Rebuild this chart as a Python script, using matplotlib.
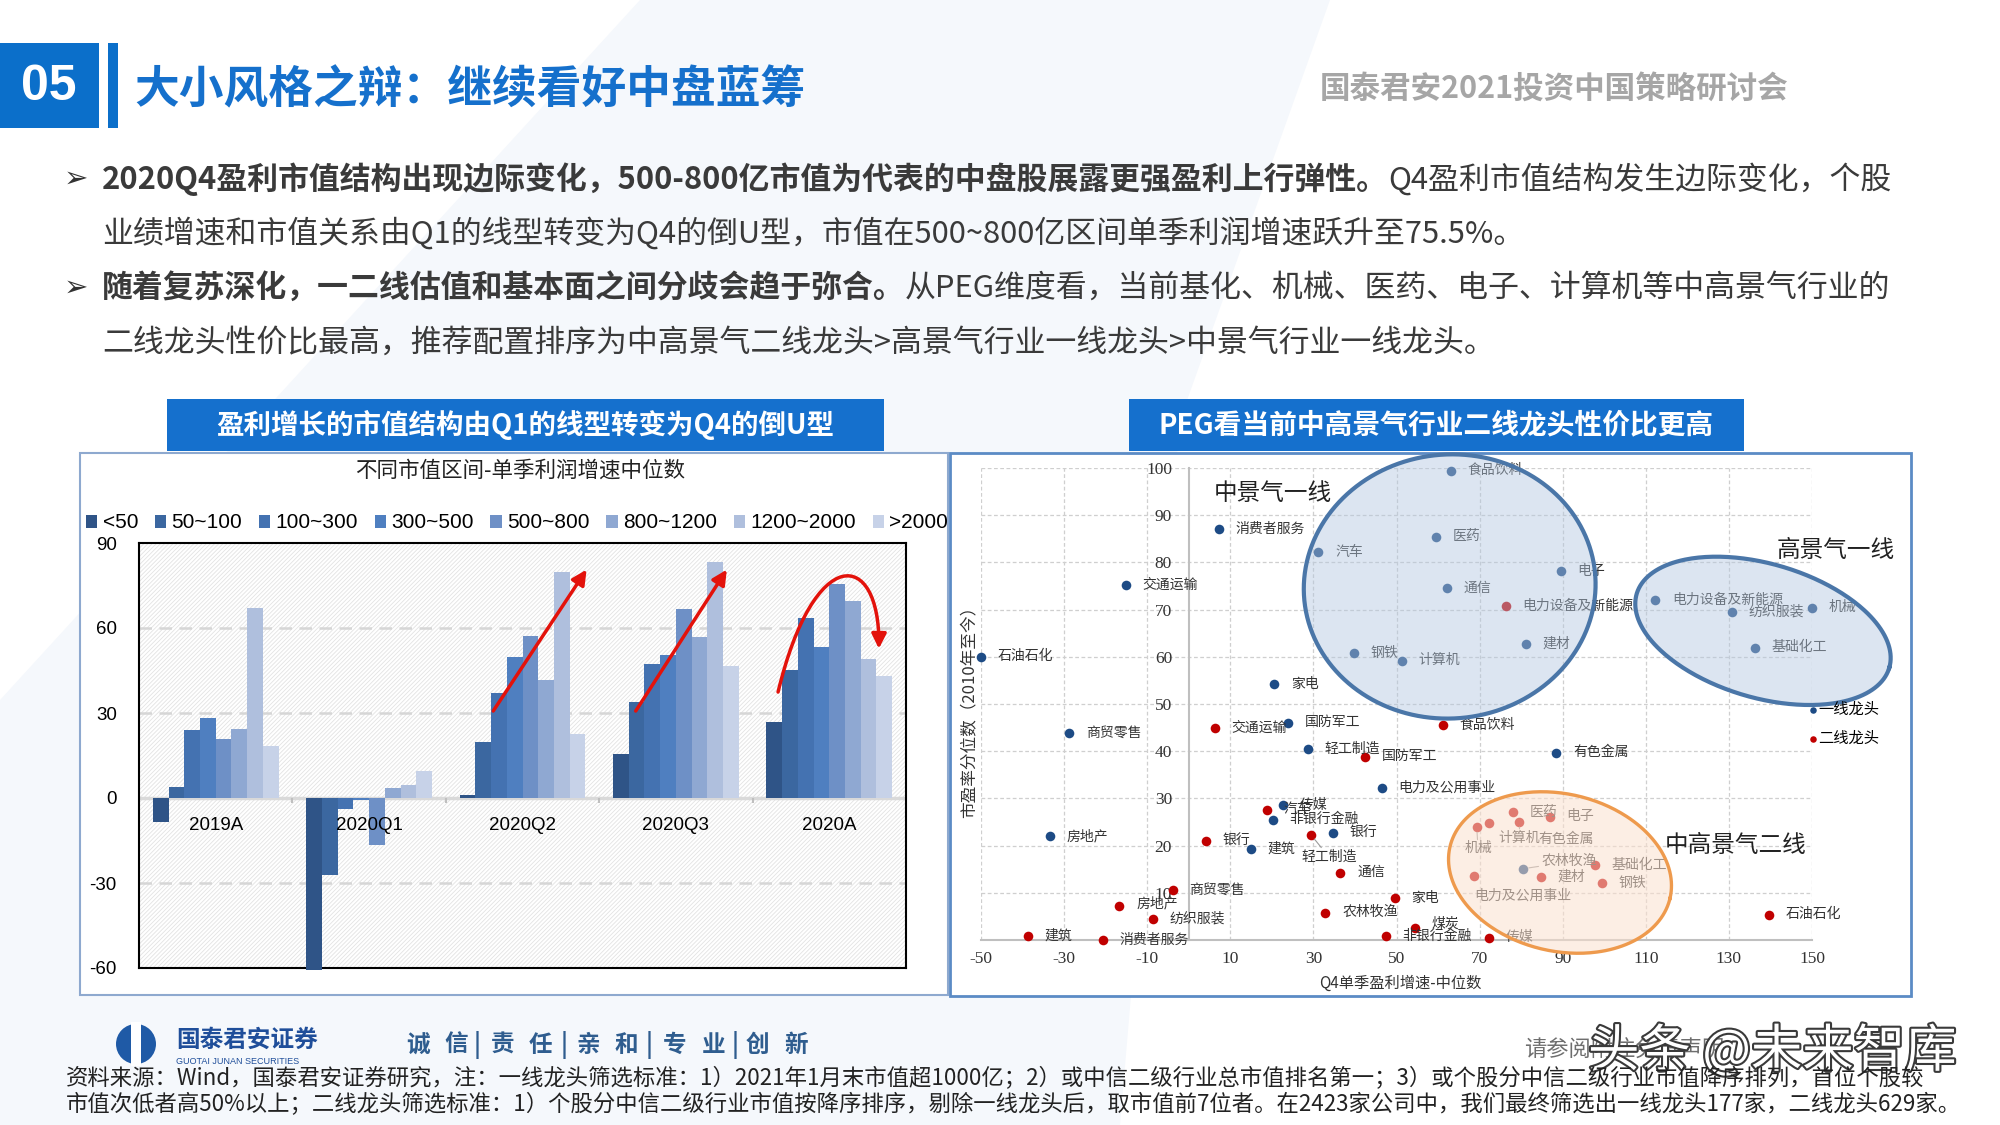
import numpy as np
import matplotlib
matplotlib.use("Agg")
import matplotlib.pyplot as plt
from matplotlib.patches import Rectangle, Ellipse, Polygon, FancyArrowPatch
from matplotlib.path import Path
import matplotlib.patheffects as pe

CJK = ["Noto Sans CJK SC", "DejaVu Sans"]
SERIF = ["Liberation Serif", "Noto Sans CJK SC"]
ARIAL = ["Liberation Sans", "Noto Sans CJK SC"]
plt.rcParams["font.family"] = CJK
plt.rcParams["axes.unicode_minus"] = False
plt.rcParams["hatch.linewidth"] = 0.6

W, H = 2000, 1125

# ---------------- left chart: profit growth by market-cap bucket
periods = ["2019A", "2020Q1", "2020Q2", "2020Q3", "2020A"]
cap_bins = ["<50", "50~100", "100~300", "300~500", "500~800", "800~1200", "1200~2000", ">2000"]
g_2019A = [-8.5, 3.9, 24.1, 28.4, 20.9, 24.2, 66.9, 18.5]
g_2020Q1 = [-60.8, -27.2, -3.8, -0.8, -16.5, 3.5, 4.5, 9.4]
g_2020Q2 = [0.9, 19.8, 37.2, 49.8, 57.1, 41.8, 79.9, 22.5]
g_2020Q3 = [15.6, 33.8, 47.4, 50.4, 66.6, 56.8, 83.2, 46.5]
g_2020A = [26.9, 45.1, 63.5, 53.2, 75.5, 69.4, 49.2, 43.2]
growth = [g_2019A, g_2020Q1, g_2020Q2, g_2020Q3, g_2020A]
bar_colors = ["#2F5487", "#3B67A0", "#4472B1", "#4F7FC0", "#6E90C6", "#8FA8D2", "#AFBFDD", "#C7D2E8"]

# ---------------- right chart: PE percentile vs Q4 profit growth
first_names = ["食品饮料", "消费者服务", "医药", "汽车", "电子", "交通运输", "通信",
               "电力设备及新能源", "机械", "纺织服装", "建材", "基础化工", "钢铁", "石油石化",
               "计算机", "家电", "国防军工", "商贸零售", "轻工制造", "有色金属",
               "电力及公用事业", "传媒", "非银行金融", "银行", "房地产", "建筑", "农林牧渔"]
first_x = [63.1, 7.3, 59.5, 31.2, 89.5, -15.2, 62.2, 112.3, 150.0, 130.7, 81.1, 136.3, 39.8, -50.0,
           51.3, 20.6, 23.8, -28.8, 28.6, 88.5, 46.5, 22.6, 20.2, 34.7, -33.5, 15.0, 80.5]
first_y = [99.4, 87.1, 85.4, 82.1, 78.1, 75.2, 74.5, 72.0, 70.4, 69.5, 62.8, 61.9, 60.8, 60.0,
           59.2, 54.2, 46.0, 43.9, 40.4, 39.7, 32.3, 28.6, 25.5, 22.7, 22.0, 19.3, 15.1]

second_names = ["电力设备及新能源", "食品饮料", "交通运输", "国防军工", "汽车", "医药", "电子",
                "计算机", "有色金属", "机械", "轻工制造", "银行", "基础化工", "通信",
                "电力及公用事业", "建材", "钢铁", "商贸零售", "家电", "房地产", "农林牧渔",
                "石油石化", "纺织服装", "煤炭", "建筑", "非银行金融", "传媒", "消费者服务"]
second_x = [76.3, 61.2, 6.2, 42.4, 18.8, 78.0, 86.9, 79.6, 72.2, 69.3, 29.4, 4.2, 97.8, 36.5,
            68.6, 84.7, 99.4, -3.9, 49.6, -16.7, 32.9, 139.6, -8.7, 54.4, -38.7, 47.4, 72.2, -20.7]
second_y = [70.7, 45.5, 44.9, 38.8, 27.6, 27.1, 26.1, 25.1, 24.8, 24.0, 22.3, 21.0, 15.8, 14.3,
            13.5, 13.4, 12.0, 10.5, 8.8, 7.2, 5.8, 5.4, 4.5, 2.5, 0.8, 0.8, 0.5, 0.0]

# label offsets (points) that differ from the default right-hand placement
special_offsets = {
    ("s", "轻工制造"): (-7, -16, "left", True),
    ("s", "机械"): (1, -16, "center", True),
    ("s", "计算机"): (0, -12, "center", True),
    ("s", "有色金属"): (36, -12, "left", False),
    ("s", "电力及公用事业"): (0, -14, "left", False),
    ("s", "房地产"): (12, 2, "left", False),
    ("s", "煤炭"): (12, 3, "left", False),
    ("f", "农林牧渔"): (13, 5, "left", True),
}

fig = plt.figure(figsize=(20, 11.25), dpi=100)
fig.patch.set_facecolor("white")


def fx(x):
    return x / W


def fy(y):
    return 1 - y / H


def box(x0, y0, x1, y1, **kw):
    r = Rectangle((fx(x0), fy(y1)), (x1 - x0) / W, (y1 - y0) / H,
                  transform=fig.transFigure, **kw)
    fig.add_artist(r)
    return r


# faint background shapes
fig.add_artist(Polygon([[fx(640), fy(0)], [fx(1330), fy(0)], [fx(1180), fy(420)],
                        [fx(1120), fy(1125)], [fx(0), fy(1125)], [fx(0), fy(700)]],
                       closed=True, transform=fig.transFigure, fc="#F5F8FC", ec="none", zorder=-3))

# header
box(0, 43, 99, 128, fc="#0B6FCA", ec="none", zorder=-1)
box(108, 43, 118, 128, fc="#0B6FCA", ec="none", zorder=-1)
fig.text(fx(49), fy(87), "05", color="white", fontsize=36, weight="bold",
         family=["Liberation Sans Narrow", "Liberation Sans"], ha="center", va="center")
fig.text(fx(134), fy(90), "大小风格之辩：继续看好中盘蓝筹", fontsize=32.2, weight="bold",
         color="#1570CC", va="center")
fig.text(fx(1320), fy(89), "国泰君安2021投资中国策略研讨会", fontsize=22, weight="bold",
         color="#A6A6A6", va="center")

# body text with bold lead-ins
renderer = fig.canvas.get_renderer()
body_lines = [
    (179, True, [("2020Q4盈利市值结构出现边际变化，500-800亿市值为代表的中盘股展露更强盈利上行弹性。", True),
                 ("Q4盈利市值结构发生边际变化，个股", False)]),
    (233, False, [("业绩增速和市值关系由Q1的线型转变为Q4的倒U型，市值在500~800亿区间单季利润增速跃升至75.5%。", False)]),
    (288, True, [("随着复苏深化，一二线估值和基本面之间分歧会趋于弥合。", True),
                 ("从PEG维度看，当前基化、机械、医药、电子、计算机等中高景气行业的", False)]),
    (343, False, [("二线龙头性价比最高，推荐配置排序为中高景气二线龙头>高景气行业一线龙头>中景气行业一线龙头。", False)]),
]
for y, bullet, parts in body_lines:
    if bullet:
        fig.text(fx(64), fy(y), "➢", family="DejaVu Sans", fontsize=21, color="#333333", va="center")
    x = 102
    for s, bold in parts:
        t = fig.text(fx(x), fy(y), s, fontsize=22.25, weight="bold" if bold else "normal",
                     color="#3A3A3A", va="center", ha="left")
        x = t.get_window_extent(renderer=renderer).x1

# chart frames and title bars
box(80, 453, 948, 995, fc="white", ec="#8EA9CF", lw=1.5, zorder=-1)
box(950, 453, 1911, 996, fc="white", ec="#5B8BC5", lw=2, zorder=-1)
box(167, 399, 884, 451, fc="#1570CD", ec="none", zorder=-1)
box(1129, 399, 1744, 451, fc="#1570CD", ec="none", zorder=-1)
fig.text(fx(525), fy(425), "盈利增长的市值结构由Q1的线型转变为Q4的倒U型", color="white",
         fontsize=19.8, weight="bold", ha="center", va="center")
fig.text(fx(1436), fy(425), "PEG看当前中高景气行业二线龙头性价比更高", color="white",
         fontsize=20, weight="bold", ha="center", va="center")

# ---------------- left bar chart
axb = fig.add_axes([fx(139), fy(968), (906 - 139) / W, (968 - 543) / H])
xpos = np.arange(len(periods))
nb = len(cap_bins)
bw = 0.82 / nb
for j, name in enumerate(cap_bins):
    vals = [g[j] for g in growth]
    axb.bar(xpos - 0.41 + bw * (j + 0.5), vals, bw, color=bar_colors[j], label=name,
            zorder=3, clip_on=False)
axb.set_xlim(-0.5, 4.5)
axb.set_ylim(-60, 90)
axb.set_yticks([-60, -30, 0, 30, 60, 90])
axb.set_xticks([])
axb.tick_params(axis="y", length=0, pad=16, labelsize=13.5)
for lab in axb.get_yticklabels():
    lab.set_family(ARIAL)
for v in (30, 60, -30):
    axb.axhline(v, color="#D6D6D6", lw=1.8, ls=(0, (5, 3)), zorder=1)
axb.axhline(0, color="#D9D9D9", lw=2.5, zorder=2)
axb.vlines(np.arange(0.5, 4.0, 1.0), -1.8, 0, color="#BFBFBF", lw=1.5, zorder=2)
for i, p in enumerate(periods):
    axb.text(i, -9.6, p, ha="center", va="center", fontsize=13.5, family=ARIAL, zorder=5)
for s in axb.spines.values():
    s.set_color("black")
    s.set_linewidth(1.5)
axb.add_patch(Rectangle((0, 0), 1, 1, transform=axb.transAxes, fill=False,
                        hatch="////////", edgecolor="#E3E3E3", lw=0, zorder=0))

red = "#E3120B"
arrow_kw = dict(arrowstyle="-|>", color=red, lw=2.5, mutation_scale=22, shrinkA=0, shrinkB=0)
axb.annotate("", xy=(2.418, 80.6), xytext=(1.809, 30.7), arrowprops=arrow_kw, zorder=6)
axb.annotate("", xy=(3.332, 80.6), xytext=(2.738, 30.7), arrowprops=arrow_kw, zorder=6)
curve = Path([(3.666, 37.4), (3.90, 90.0), (4.33, 88.0), (4.323, 52.7)],
             [Path.MOVETO, Path.CURVE4, Path.CURVE4, Path.CURVE4])
axb.add_patch(FancyArrowPatch(path=curve, arrowstyle="-|>", color=red, lw=2.5,
                              mutation_scale=22, zorder=6))

fig.text(fx(520), fy(471), "不同市值区间-单季利润增速中位数", fontsize=15.5, ha="center",
         va="center", color="#222222")
axb.legend(loc="center", bbox_to_anchor=(fx(517), fy(523)), bbox_transform=fig.transFigure,
           ncol=8, frameon=False, prop={"family": ARIAL, "size": 15},
           handlelength=0.55, handleheight=0.6, handletextpad=0.25, columnspacing=0.8,
           borderpad=0)

# ---------------- right scatter chart
axs = fig.add_axes([fx(981), fy(940), 831 / W, 472 / H])
axs.patch.set_alpha(0)
axs.set_xlim(-50, 150)
axs.set_ylim(0, 100)
axs.set_xticks(np.arange(-50, 151, 20))
axs.set_yticks(np.arange(0, 101, 10))
axs.set_yticklabels([""] + [str(v) for v in range(10, 101, 10)])
axs.grid(True, ls=(0, (3, 2)), color="#CFCFCF", lw=0.9, zorder=0)
axs.spines["left"].set_position(("data", 0))
axs.spines[["top", "right"]].set_visible(False)
for k in ("left", "bottom"):
    axs.spines[k].set_color("#BFBFBF")
    axs.spines[k].set_linewidth(1.5)
axs.tick_params(axis="x", length=0, pad=8, labelsize=12.5, labelcolor="#333333")
axs.tick_params(axis="y", length=0, pad=12, labelsize=12.5, labelcolor="#333333")
for lab in axs.get_xticklabels() + axs.get_yticklabels():
    lab.set_family(SERIF)

blue_c = "#1D4B85"
red_c = "#C00000"
axs.scatter(first_x, first_y, s=48, color=blue_c, zorder=3, clip_on=False, lw=0)
axs.scatter(second_x, second_y, s=48, color=red_c, zorder=3, clip_on=False, lw=0)


def put_labels(tag, names, xs, ys):
    for n, x, y in zip(names, xs, ys):
        dx, dy, ha, leader = special_offsets.get((tag, n), (12, 0, "left", False))
        ap = dict(arrowstyle="-", color="#999999", lw=0.8, shrinkA=0, shrinkB=4) if leader else None
        axs.annotate(n, (x, y), xytext=(dx, dy), textcoords="offset points", ha=ha,
                     va="center", fontsize=10, color="#333333", family=SERIF,
                     arrowprops=ap, zorder=3, annotation_clip=False)


put_labels("f", first_names, first_x, first_y)
put_labels("s", second_names, second_x, second_y)

# highlight ellipses drawn in pixel-true shape
sx, sy = 831 / 200, 472 / 100


def ellipse_xy(cx, cy, a_px, b_px, ang):
    t = np.linspace(0, 2 * np.pi, 300)
    th = np.deg2rad(ang)
    ex = a_px * np.cos(t) * np.cos(th) - b_px * np.sin(t) * np.sin(th)
    ey = a_px * np.cos(t) * np.sin(th) + b_px * np.sin(t) * np.cos(th)
    return cx + ex / sx, cy + ey / sy


for (cx, cy, a, b, ang), fc, ec, al in [
    ((62.8, 74.9, 146, 132, 5), "#B3C7E0", "#4A76A8", 0.45),
    ((138.2, 65.5, 131.6, 67, -16.3), "#B3C7E0", "#4A76A8", 0.45),
    ((89.35, 14.3, 113, 78.6, -13.2), "#FBE0CE", "#EE9A4D", 0.55),
]:
    ex, ey = ellipse_xy(cx, cy, a, b, ang)
    axs.fill(ex, ey, color=fc, alpha=al, lw=0, zorder=4, clip_on=False)
    axs.plot(ex, ey, color=ec, lw=3 if ec != "#EE9A4D" else 2.4, zorder=5, clip_on=False)

axs.text(6.1, 94.7, "中景气一线", fontsize=17, color="#222222", va="center", zorder=6)
axs.text(141.6, 82.6, "高景气一线", fontsize=17, color="#222222", va="center", zorder=6, clip_on=False)
axs.text(114.6, 20.1, "中高景气二线", fontsize=17, color="#222222", va="center", zorder=6)

# legend for leader tiers
axs.scatter([150.2], [48.7], s=22, color=blue_c, zorder=6, clip_on=False, lw=0)
axs.scatter([150.2], [42.6], s=22, color=red_c, zorder=6, clip_on=False, lw=0)
axs.annotate("一线龙头", (150.2, 48.7), xytext=(4, 0), textcoords="offset points", va="center",
             fontsize=11, family=SERIF, annotation_clip=False, zorder=6)
axs.annotate("二线龙头", (150.2, 42.6), xytext=(4, 0), textcoords="offset points", va="center",
             fontsize=11, family=SERIF, annotation_clip=False, zorder=6)

fig.text(fx(1400), fy(983), "Q4单季盈利增速-中位数", fontsize=11, ha="center", va="center",
         color="#333333")
fig.text(fx(970), fy(708), "市盈率分位数（2010年至今）", fontsize=12, rotation=90,
         ha="center", va="center", color="#333333")

# ---------------- footer
fig.add_artist(Ellipse((fx(136), fy(1044)), 40 / W, 40 / H, transform=fig.transFigure,
                       fc="#1F5AA6", ec="none"))
box(131, 1022, 141, 1066, fc="white", ec="none", zorder=2)
fig.text(fx(176), fy(1040), "国泰君安证券", fontsize=17, weight="bold", color="#1F4E9A", va="center")
fig.text(fx(176), fy(1061), "GUOTAI JUNAN SECURITIES", fontsize=6.5, color="#1F4E9A", va="center",
         family=ARIAL)
slogan = [("诚", 406), ("信", 444), ("|", 474), ("责", 491), ("任", 529), ("|", 561),
          ("亲", 577), ("和", 615), ("|", 646), ("专", 663), ("业", 702), ("|", 732),
          ("创", 746), ("新", 784)]
for ch, xp in slogan:
    fig.text(fx(xp), fy(1045), ch, fontsize=17, weight="bold", color="#2F5D8F", va="center",
             ha="left")
fig.text(fx(1524), fy(1050), "请参阅附注免责声明", fontsize=16, color="#6E6E6E", va="center")
fig.text(fx(1588), fy(1052), "头条 @未来智库", fontsize=37, color="white", va="center",
         path_effects=[pe.withStroke(linewidth=3, foreground="#3A3A3A")])

note1 = ("资料来源：Wind，国泰君安证券研究，注：一线龙头筛选标准：1）2021年1月末市值超1000亿；"
         "2）或中信二级行业总市值排名第一；3）或个股分中信二级行业市值降序排列，首位个股较")
note2 = ("市值次低者高50%以上；二线龙头筛选标准：1）个股分中信二级行业市值按降序排序，剔除一线龙头后，"
         "取市值前7位者。在2423家公司中，我们最终筛选出一线龙头177家，二线龙头629家。")
fig.text(fx(66), fy(1079), note1, fontsize=16.1, color="#222222", va="center")
fig.text(fx(66), fy(1105), note2, fontsize=16.1, color="#222222", va="center")

fig.savefig("out.png", dpi=100)
